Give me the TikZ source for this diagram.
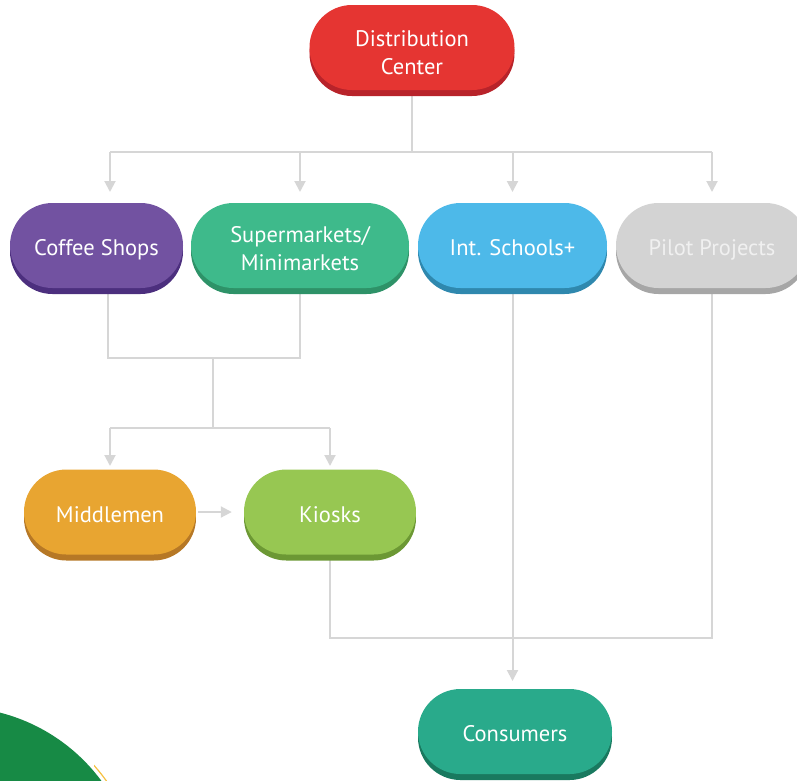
\documentclass[tikz,border=0pt]{standalone}
\usepackage{fontspec}
\setmainfont{PT Sans}
\usetikzlibrary{arrows.meta,shadows}
\pgfdeclarelayer{bg}
\pgfsetlayers{bg,main}
\definecolor{cRed}{HTML}{E53532}
\definecolor{cRedD}{HTML}{B8232A}
\definecolor{cPur}{HTML}{7252A1}
\definecolor{cPurD}{HTML}{4C2F7E}
\definecolor{cSup}{HTML}{3EBA8B}
\definecolor{cSupD}{HTML}{2E9268}
\definecolor{cBlu}{HTML}{4DB9E9}
\definecolor{cBluD}{HTML}{2F88AE}
\definecolor{cGry}{HTML}{D3D3D3}
\definecolor{cGryD}{HTML}{A6A6A6}
\definecolor{cOra}{HTML}{E8A531}
\definecolor{cOraD}{HTML}{B67826}
\definecolor{cKio}{HTML}{97C752}
\definecolor{cKioD}{HTML}{6C9834}
\definecolor{cCon}{HTML}{29AA8B}
\definecolor{cConD}{HTML}{19795F}
\definecolor{cLine}{HTML}{D6D6D6}
\definecolor{cLeaf}{HTML}{178A45}
\definecolor{cYel}{HTML}{F5C040}
\begin{document}
\begin{tikzpicture}[x=1pt,y=-1pt,
  pill/.style={rectangle, rounded corners=42.5pt, minimum height=85pt, inner sep=0pt},
  ptext/.style={text=white, font=\fontsize{22.5}{28}\selectfont, align=center, inner sep=0pt},
  shad/.style={drop shadow={shadow xshift=0pt, shadow yshift=-6pt, fill=#1, opacity=1}},
  conn/.style={draw=cLine, line width=2pt},
  arr/.style={conn, -{Triangle[width=11pt,length=11pt]}}]
\useasboundingbox (0,0) rectangle (797,780);
\begin{scope}
\clip (0,0) rectangle (797,780);
\fill[cLeaf] (-45,889) circle (182pt);
\begin{scope}
\clip (94,764) rectangle (118,780);
\draw[cYel, line width=1.2pt] (-45,889) circle (186pt);
\end{scope}
% boxes
\node[pill, fill=cRed, shad=cRedD, minimum width=205pt] (dc) at (412,47.5) {};
\node[pill, fill=cPur, shad=cPurD, minimum width=173pt] (cs) at (96.5,245.5) {};
\node[pill, fill=cSup, shad=cSupD, minimum width=218pt] (sm) at (300,245.5) {};
\node[pill, fill=cBlu, shad=cBluD, minimum width=189pt] (is) at (512.5,245.5) {};
\node[pill, fill=cGry, shad=cGryD, minimum width=192pt] (pp) at (712,245.5) {};
\node[pill, fill=cOra, shad=cOraD, minimum width=172pt] (mm) at (110,512) {};
\node[pill, fill=cKio, shad=cKioD, minimum width=172pt] (ks) at (330,512) {};
\node[pill, fill=cCon, shad=cConD, minimum width=194pt] (co) at (515,731.5) {};
% texts
\node[ptext] (dct) at ([yshift=-5pt]dc.center) {Distribution\\Center};
\node[ptext, anchor=base] (cst) at ([yshift=-10pt]cs.center) {Coffee Shops};
\node[ptext] (smt) at ([yshift=-3pt]sm.center) {Supermarkets/\\Minimarkets};
\node[ptext, anchor=base] (ist) at ([yshift=-10pt]is.center) {Int. Schools+};
\node[ptext, anchor=base, text=white!94!black] (ppt) at ([yshift=-10pt]pp.center) {Pilot Projects};
\node[ptext, anchor=base] (mmt) at ([yshift=-10pt]mm.center) {Middlemen};
\node[ptext, anchor=base] (kst) at ([yshift=-10pt]ks.center) {Kiosks};
\node[ptext, anchor=base] (cot) at ([yshift=-10pt]co.center) {Consumers};
% junction coordinates
\coordinate (b1) at (0,152);
\coordinate (b2) at (0,358);
\coordinate (b3) at (0,428);
\coordinate (b4) at (0,638);
\coordinate (csx) at (110,0);
\coordinate (csb) at (108,0);
\coordinate (mid) at (213,0);
\begin{pgfonlayer}{bg}
\draw[conn] (dc.south) -- (dc |- b1);
\draw[conn] (csx |- b1) -- (pp |- b1);
\draw[arr] (csx |- b1) -- (csx |- 0,192);
\draw[arr] (sm |- b1) -- (sm |- 0,192);
\draw[arr] (is |- b1) -- (is |- 0,192);
\draw[arr] (pp |- b1) -- (pp |- 0,192);
\draw[conn] (csb |- cs.south) -- (csb |- b2) -- (sm |- b2) -- (sm.south);
\draw[conn] (mid |- b2) -- (mid |- b3);
\draw[conn] (mm |- b3) -- (ks |- b3);
\draw[arr] (mm |- b3) -- (mm |- 0,466);
\draw[arr] (ks |- b3) -- (ks |- 0,466);
\draw[arr] ([xshift=2pt]mm.east) -- ([xshift=-12pt]ks.west);
\draw[conn] (ks.south) -- (ks |- b4) -- (pp |- b4) -- (pp.south);
\draw[arr] (is.south) -- (is |- 0,681);
\end{pgfonlayer}
\end{scope}
\end{tikzpicture}
\end{document}
